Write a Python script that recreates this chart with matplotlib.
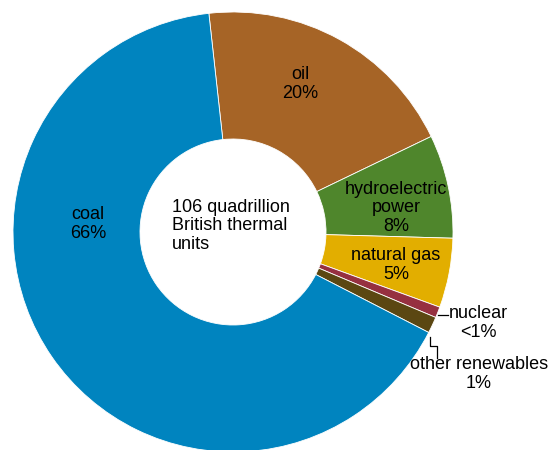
import matplotlib.pyplot as plt

plt.rcParams['font.family'] = ['Liberation Sans', 'DejaVu Sans']

# shares in percent, clockwise from oil
sources = ['oil', 'hydroelectric power', 'natural gas', 'nuclear', 'other renewables', 'coal']
shares = [19.6, 7.6, 5.1, 0.8, 1.2, 65.7]
labels = ['oil\n20%', 'hydroelectric\npower\n8%', 'natural gas\n5%', 'nuclear\n<1%', 'other renewables\n1%', 'coal\n66%']
colors = ['#A66426', '#4F862C', '#E2AE00', '#963040', '#5B4712', '#0084BF']
center_text = '106 quadrillion\nBritish thermal\nunits'

# pixel geometry of the reference
cx, cy, R = 233, 232, 220


def px(x, y):
    return (x - cx) / R, (cy - y) / R


fig = plt.figure(figsize=(5.5, 4.5), dpi=100)
ax = fig.add_axes([0, 0, 1, 1])
ax.pie(shares, colors=colors, startangle=96.3, counterclock=False, radius=1,
       wedgeprops=dict(width=1 - 93 / R, edgecolor='white', linewidth=0.6))

fs = 13
# label positions (pixel centres)
label_pos = [(300, 84), (396, 208), (396, 265), (478, 323), (479, 374), (88, 224)]
for lab, (x, y) in zip(labels, label_pos):
    ax.text(*px(x, y), lab, ha='center', va='center', fontsize=fs, linespacing=1.15)

ax.text(*px(172, 226), center_text, ha='left', va='center', fontsize=fs, linespacing=1.15)

# leader lines
nx, ny = zip(px(438, 315), px(448, 315))
ax.plot(nx, ny, color='black', lw=0.9)
ox, oy = zip(px(430, 337), px(430, 346), px(437, 346), px(437, 358))
ax.plot(ox, oy, color='black', lw=0.9)

ax.set_xlim(-cx / R, (550 - cx) / R)
ax.set_ylim((cy - 450) / R, cy / R)
ax.set_aspect('auto')
ax.axis('off')

plt.savefig('out.png')
